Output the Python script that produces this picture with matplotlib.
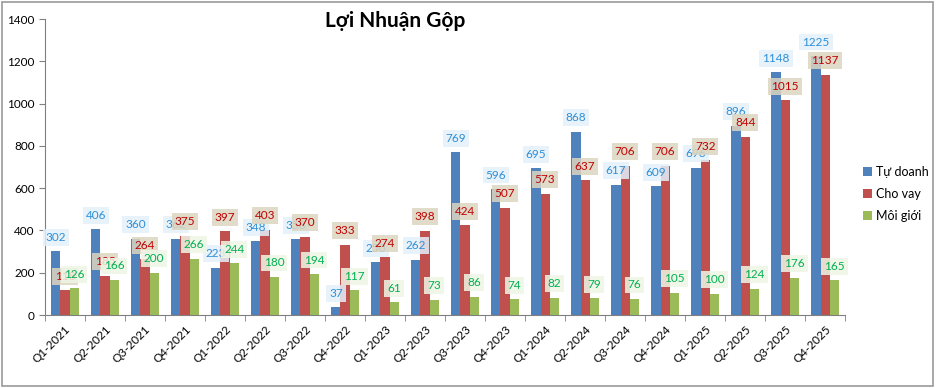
import matplotlib
matplotlib.use("Agg")
import matplotlib.pyplot as plt
import numpy as np
from matplotlib.patches import Rectangle

plt.rcParams['font.family'] = ['Lato', 'DejaVu Sans']

quarters = ['Q1-2021', 'Q2-2021', 'Q3-2021', 'Q4-2021', 'Q1-2022', 'Q2-2022', 'Q3-2022', 'Q4-2022',
            'Q1-2023', 'Q2-2023', 'Q3-2023', 'Q4-2023', 'Q1-2024', 'Q2-2024', 'Q3-2024', 'Q4-2024',
            'Q1-2025', 'Q2-2025', 'Q3-2025', 'Q4-2025']
tu_doanh = [302, 406, 360, 362, 223, 348, 358, 37, 250, 262, 769, 596, 695, 868, 617, 609, 696, 896, 1148, 1225]
cho_vay = [118, 185, 264, 375, 397, 403, 370, 333, 274, 398, 424, 507, 573, 637, 706, 706, 732, 844, 1015, 1137]
moi_gioi = [126, 166, 200, 266, 244, 180, 194, 117, 61, 73, 86, 74, 82, 79, 76, 105, 100, 124, 176, 165]

series = [
    ('Tự doanh', tu_doanh, '#4f81bd', '#2e8fd8', '#e3f0fa'),
    ('Cho vay', cho_vay, '#c0504d', '#c00000', '#dcd5c0'),
    ('Môi giới', moi_gioi, '#9bbb59', '#00b050', '#eef6e6'),
]

fig = plt.figure(figsize=(9.36, 3.88), dpi=100)
ax = fig.add_axes([0.048, 0.188, 0.855, 0.763])
fig.patches.append(Rectangle((0.002, 0.004), 0.995, 0.99, transform=fig.transFigure,
                             fill=False, edgecolor='#9a9a9a', lw=1.2))

x = np.arange(len(quarters))
w = 0.23
for i, (name, vals, col, tcol, bcol) in enumerate(series):
    xs = x + (i - 1) * w
    ax.bar(xs, vals, width=w, color=col, label=name, zorder=2)
    for xi, v in zip(xs, vals):
        ax.annotate(str(v), (xi, v), xytext=(0, 14), textcoords='offset pixels',
                    ha='center', va='center', fontsize=8.5, color=tcol, zorder=5,
                    bbox=dict(boxstyle='square,pad=0.25', fc=bcol, ec='none', alpha=0.85))

ax.set_xlim(-0.5, len(quarters) - 0.5)
ax.set_ylim(0, 1400)
ax.set_yticks(np.arange(0, 1401, 200))
ax.set_xticks(x)
ax.set_xticklabels(quarters, rotation=45, ha='right', rotation_mode='anchor', fontsize=8.5)
ax.set_xticks(np.arange(-0.5, len(quarters), 1), minor=True)
ax.tick_params(axis='x', which='major', length=0, pad=6)
ax.tick_params(axis='x', which='minor', length=4, color='#808080')
ax.tick_params(axis='y', labelsize=8.5, length=4, color='#808080')
for s in ['top', 'right']:
    ax.spines[s].set_visible(False)
for s in ['left', 'bottom']:
    ax.spines[s].set_color('#808080')

fig.text(0.422, 0.945, 'Lợi Nhuận Gộp', ha='center', va='center', fontsize=15, fontweight='bold')

ax.legend(loc='center left', bbox_to_anchor=(0.91, 0.0, 0.2, 1.0), bbox_transform=fig.transFigure,
          frameon=False, fontsize=9, handlelength=0.7, handleheight=0.7, handletextpad=0.3,
          labelspacing=0.8)

fig.savefig('out.png', dpi=100)
